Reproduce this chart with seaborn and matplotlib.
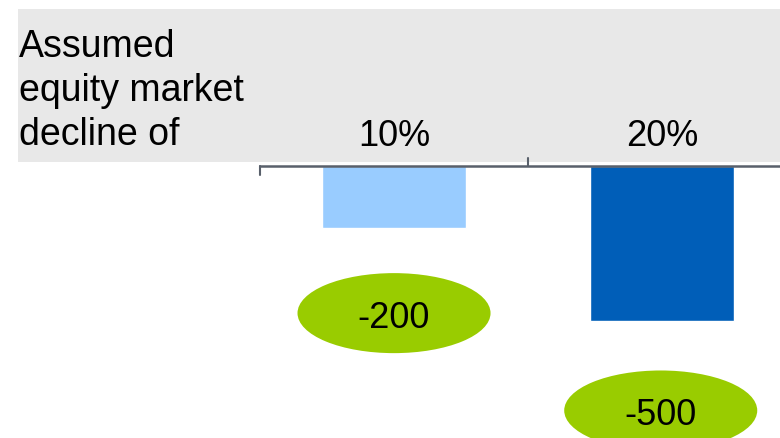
import matplotlib
matplotlib.use("Agg")
import matplotlib.pyplot as plt
import seaborn as sns
import pandas as pd
from matplotlib.patches import Ellipse, Rectangle
import matplotlib.transforms as mtrans

categories = ["10%", "20%"]
values = [-200, -500]
labels = ["-200", "-500"]
bar_colors = ["#99CCFF", "#005EB8"]
header_lines = ["Assumed", "equity market", "decline of"]

sns.set_theme(style="white")
plt.rcParams['font.family'] = ['Liberation Sans', 'DejaVu Sans']

W, H = 780, 439
FS = 26
fig = plt.figure(figsize=(W / 100, H / 100), dpi=100)
# grey header band (behind everything)
fig.patches.append(Rectangle((18 / W, 1 - 163 / H), (W - 18) / W, 153 / H,
                             transform=fig.transFigure, facecolor="#E8E8E8",
                             edgecolor="none", zorder=-5))
for k, line in enumerate(header_lines):
    fig.text(19 / W, 1 - (57 + 44 * k) / H, line, ha="left", va="baseline",
             fontsize=27, color="black")

ax = fig.add_axes([260 / W, 0, 520 / W, (H - 167) / H])
ax.patch.set_alpha(0)
df = pd.DataFrame({"cat": categories, "val": values})
sns.barplot(data=df, x="cat", y="val", hue="cat", palette=bar_colors,
            order=categories, width=0.537, legend=False, ax=ax,
            saturation=1)
ax.set_xlim(-0.5, 1.44)
ax.set_ylim(-880, 0)
for s in ["left", "right", "bottom"]:
    ax.spines[s].set_visible(False)
ax.spines["top"].set_color("#59606B")
ax.spines["top"].set_linewidth(1.8)
ax.set_xticks([])
ax.set_yticks([])
ax.set_xlabel("")
ax.set_ylabel("")

# ticks: left goes down, middle goes up
tb = mtrans.blended_transform_factory(ax.transData, fig.transFigure)
ax.plot([-0.5, -0.5], [1 - 167 / H, 1 - 176 / H], color="#59606B", lw=1.5,
        transform=tb, clip_on=False)
ax.plot([0.5, 0.5], [1 - 167 / H, 1 - 159 / H], color="#59606B", lw=1.5,
        transform=tb, clip_on=False)

# category labels in header band
for i, c in enumerate(categories):
    ax.text(i, 1 - 146 / H, c, transform=tb, ha="center", va="baseline",
            fontsize=FS, color="black", clip_on=False)

# green ellipses with values
offsets = [-276, -291]
for i, (v, lab) in enumerate(zip(values, labels)):
    cy = v + offsets[i]
    xi = i - 0.005 * i
    e = Ellipse((xi, cy), width=193 / 268, height=80 / 0.309,
                facecolor="#99CC00", edgecolor="none", clip_on=False, zorder=3)
    ax.add_patch(e)
    ax.text(xi, cy, lab, ha="center", va="center_baseline", fontsize=FS,
            color="black", zorder=4)

fig.savefig("out.png", dpi=100)
